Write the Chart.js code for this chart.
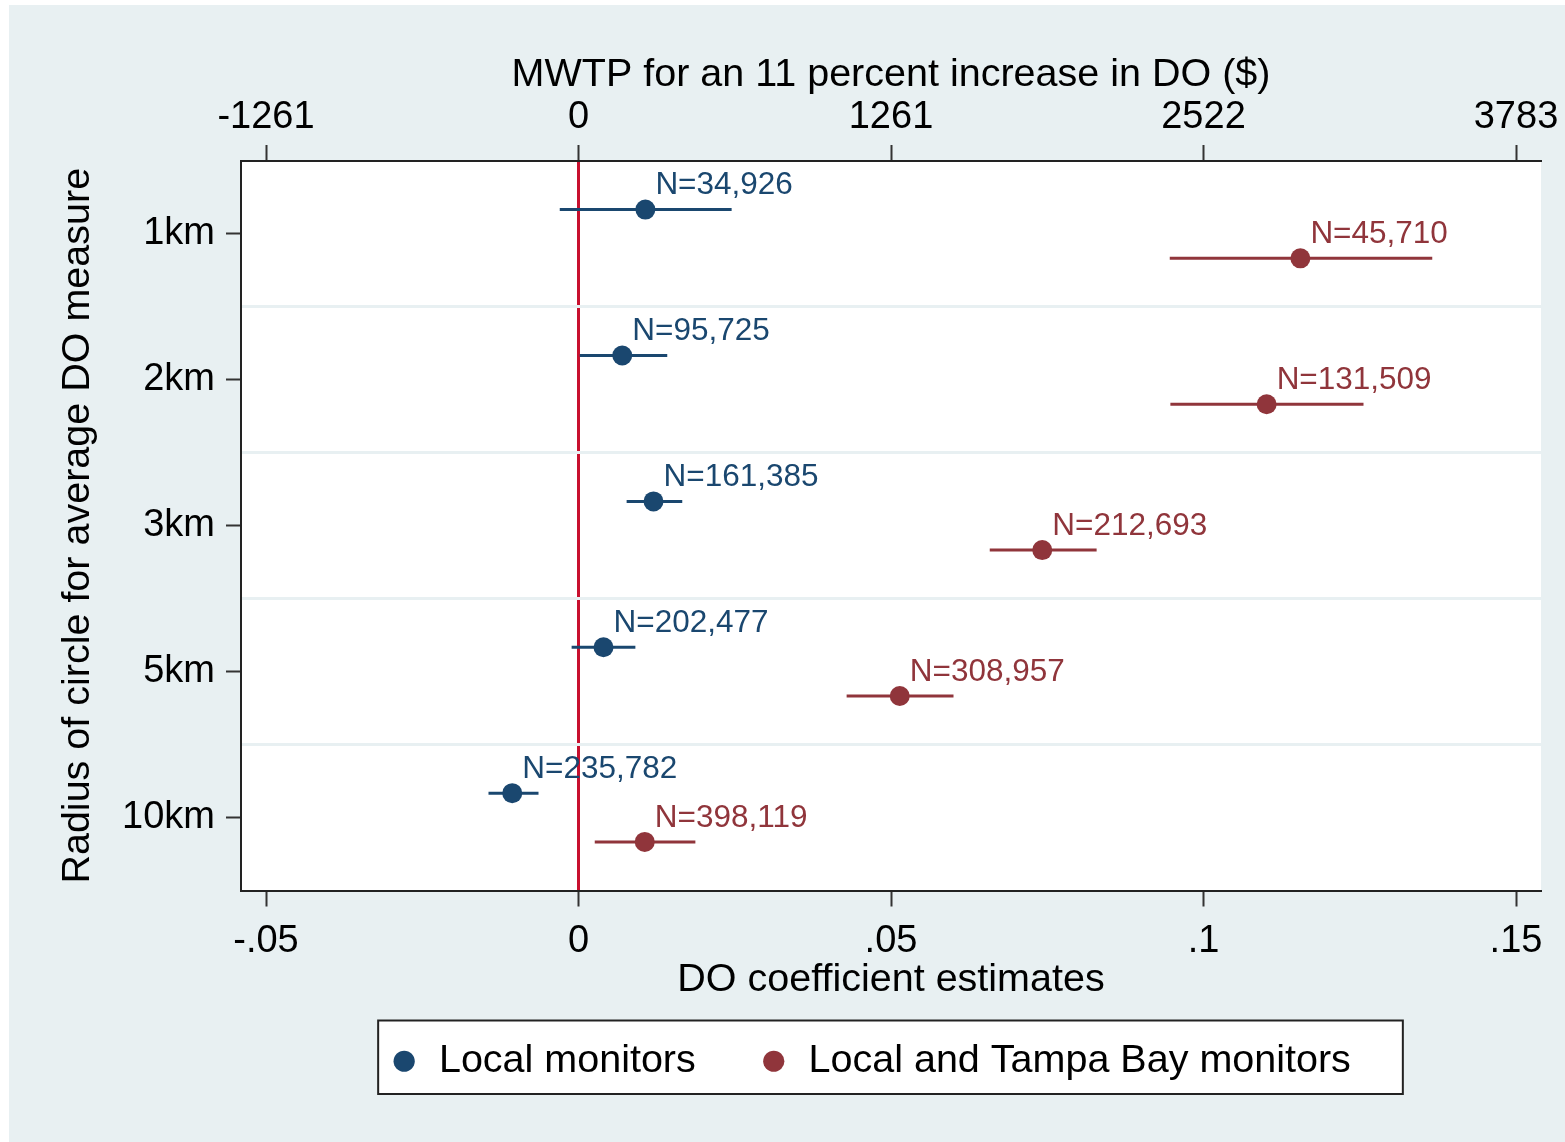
<!DOCTYPE html>
<html>
<head>
<meta charset="utf-8">
<title>DO coefficient estimates</title>
<script src="https://cdn.jsdelivr.net/npm/chart.js@4.4.0/dist/chart.umd.min.js"></script>
<style>
  html, body { margin: 0; padding: 0; background: #fff; }
  #wrap { width: 1565px; height: 1142px; }
</style>
</head>
<body>
<div id="wrap"><canvas id="coefChart" width="1565" height="1142"></canvas></div>
<script>
// radius of the averaging circle, top to bottom
const radii = ['1km', '2km', '3km', '5km', '10km'];

// sample size of each regression
const localN = ['34,926', '95,725', '161,385', '202,477', '235,782'];
const tampaN = ['45,710', '131,509', '212,693', '308,957', '398,119'];

// DO coefficient estimates with confidence bounds
const localEst = [0.0107, 0.0070, 0.0120, 0.0040, -0.0106];
const localLo  = [-0.0030, 0.0002, 0.0077, -0.0011, -0.0144];
const localHi  = [0.0245, 0.0142, 0.0166, 0.0091, -0.0064];

const tampaEst = [0.1155, 0.1101, 0.0742, 0.0514, 0.0106];
const tampaLo  = [0.0946, 0.0947, 0.0658, 0.0429, 0.0026];
const tampaHi  = [0.1366, 0.1256, 0.0829, 0.0600, 0.0187];

// axis ticks
const coefTicks = [-0.05, 0, 0.05, 0.1, 0.15];
const coefTickLabels = ['-.05', '0', '.05', '.1', '.15'];
const mwtpTicks = [-1261, 0, 1261, 2522, 3783];

const seriesNames = ['Local monitors', 'Local and Tampa Bay monitors'];
const seriesColors = ['#1a476f', '#90353b'];

// $ of MWTP per unit of the DO coefficient (1261 per .05)
const MWTP_SCALE = 25220;
const X_MIN = -0.054;
const X_MAX = 0.154;
const ROW_SHIFT = 0.167;   // vertical split of the two series inside a row
const BG = '#e8f0f2';
const FONT = "'Liberation Sans', Arial, sans-serif";

Chart.defaults.font.family = FONT;
Chart.defaults.color = '#000';

function rowPoints(est, shift) {
  return est.map((v, i) => ({ x: v, y: i + 1 + shift }));
}

function fixedTicks(values) {
  return scale => { scale.ticks = values.map(v => ({ value: v })); };
}

// panel background, white plot region, zero line and legend frame
const backdrop = {
  id: 'backdrop',
  beforeDraw(chart) {
    const { ctx, chartArea: a, width, height } = chart;
    ctx.save();
    ctx.fillStyle = '#fff';
    ctx.fillRect(0, 0, width, height);
    ctx.fillStyle = BG;
    ctx.fillRect(9, 5, width - 9, height - 5);
    ctx.fillStyle = '#fff';
    ctx.fillRect(a.left, a.top, a.right - a.left, a.bottom - a.top);

    const x0 = chart.scales.x.getPixelForValue(0);
    ctx.strokeStyle = '#c8102e';
    ctx.lineWidth = 3;
    ctx.beginPath();
    ctx.moveTo(x0, a.top);
    ctx.lineTo(x0, a.bottom);
    ctx.stroke();

    const hb = chart.legend.legendHitBoxes;
    if (hb && hb.length) {
      const last = hb[hb.length - 1];
      const l = hb[0].left - 11;
      const r = last.left + last.width + 52;
      const t = hb[0].top - 21;
      const b = hb[0].top + hb[0].height + 13;
      ctx.fillStyle = '#fff';
      ctx.fillRect(l, t, r - l, b - t);
      ctx.strokeStyle = '#222';
      ctx.lineWidth = 2;
      ctx.strokeRect(l, t, r - l, b - t);
    }
    ctx.restore();
  },
  afterLayout(chart) {
    // legend box sits a little left of the plot centre
    chart.legend.left -= 21;
    chart.legend.right -= 21;
  }
};

// confidence interval whiskers and N= labels
const intervals = {
  id: 'intervals',
  beforeDatasetsDraw(chart) {
    const { ctx, scales: { x, y } } = chart;
    ctx.save();
    ctx.lineWidth = 3;
    chart.data.datasets.forEach(ds => {
      ctx.strokeStyle = ds.borderColor;
      ds.data.forEach((p, i) => {
        const py = y.getPixelForValue(p.y);
        ctx.beginPath();
        ctx.moveTo(x.getPixelForValue(ds.ciLo[i]), py);
        ctx.lineTo(x.getPixelForValue(ds.ciHi[i]), py);
        ctx.stroke();
      });
    });
    ctx.restore();
  },
  afterDatasetsDraw(chart) {
    const { ctx, scales: { x, y } } = chart;
    ctx.save();
    ctx.font = '31.5px ' + FONT;
    ctx.textAlign = 'left';
    ctx.textBaseline = 'middle';
    chart.data.datasets.forEach(ds => {
      ctx.fillStyle = ds.borderColor;
      ds.data.forEach((p, i) => {
        ctx.fillText('N=' + ds.nText[i], x.getPixelForValue(p.x) + 10, y.getPixelForValue(p.y) - 24);
      });
    });
    ctx.restore();
  }
};

const datasets = [
  {
    label: seriesNames[0],
    data: rowPoints(localEst, -ROW_SHIFT),
    ciLo: localLo, ciHi: localHi, nText: localN,
    backgroundColor: seriesColors[0],
    borderColor: seriesColors[0],
    borderWidth: 1,
    pointStyle: 'circle',
    pointRadius: 10,
    pointHoverRadius: 10,
    pointBorderWidth: 0
  },
  {
    label: seriesNames[1],
    data: rowPoints(tampaEst, ROW_SHIFT),
    ciLo: tampaLo, ciHi: tampaHi, nText: tampaN,
    backgroundColor: seriesColors[1],
    borderColor: seriesColors[1],
    borderWidth: 1,
    pointStyle: 'circle',
    pointRadius: 10,
    pointHoverRadius: 10,
    pointBorderWidth: 0
  }
];

const rowTicks = [1, 1.5, 2, 2.5, 3, 3.5, 4, 4.5, 5];
const isRow = v => Number.isInteger(v);

new Chart(document.getElementById('coefChart'), {
  type: 'scatter',
  data: { datasets: datasets },
  plugins: [backdrop, intervals],
  options: {
    responsive: false,
    animation: false,
    devicePixelRatio: 1,
    layout: { padding: { left: 0, right: 24, top: 0, bottom: 51 } },
    plugins: {
      legend: {
        position: 'bottom',
        fullSize: false,
        labels: {
          usePointStyle: true,
          boxWidth: 30,
          boxHeight: 15,
          padding: 63,
          color: '#000',
          font: { size: 39.5 }
        }
      },
      tooltip: { enabled: false }
    },
    scales: {
      x: {
        type: 'linear',
        position: 'bottom',
        min: X_MIN,
        max: X_MAX,
        afterBuildTicks: fixedTicks(coefTicks),
        afterFit(scale) {
          scale.height = 88;
          scale.paddingLeft = 0;
          scale.paddingRight = 0;
        },
        ticks: {
          padding: 12,
          font: { size: 38 },
          color: '#000',
          callback: v => coefTickLabels[coefTicks.indexOf(v)]
        },
        grid: { drawOnChartArea: false, tickLength: 16, tickWidth: 2, tickColor: '#333' },
        border: { display: true, color: '#222', width: 2 },
        title: {
          display: true,
          text: 'DO coefficient estimates',
          font: { size: 39.5 },
          color: '#000',
          padding: { top: 0, bottom: -25 }
        }
      },
      x2: {
        type: 'linear',
        position: 'top',
        min: X_MIN * MWTP_SCALE,
        max: X_MAX * MWTP_SCALE,
        afterBuildTicks: fixedTicks(mwtpTicks),
        afterFit(scale) {
          scale.height = 161;
          scale.paddingLeft = 0;
          scale.paddingRight = 0;
        },
        ticks: {
          padding: 5,
          font: { size: 38 },
          color: '#000',
          callback: v => String(v)
        },
        grid: { drawOnChartArea: false, tickLength: 16, tickWidth: 2, tickColor: '#333' },
        border: { display: true, color: '#222', width: 2 },
        title: {
          display: true,
          text: 'MWTP for an 11 percent increase in DO ($)',
          font: { size: 39.5 },
          color: '#000',
          padding: { top: 51, bottom: 0 }
        }
      },
      y: {
        type: 'linear',
        position: 'left',
        reverse: true,
        min: 0.5,
        max: 5.5,
        afterBuildTicks: fixedTicks(rowTicks),
        afterFit(scale) {
          scale.width = 241;
          scale.paddingTop = 0;
          scale.paddingBottom = 0;
        },
        ticks: {
          padding: 11,
          font: { size: 38 },
          color: '#000',
          callback: v => isRow(v) ? radii[v - 1] : ''
        },
        grid: {
          drawOnChartArea: true,
          tickLength: 15,
          lineWidth: 3,
          tickWidth: 2,
          color: c => isRow(c.tick.value) ? 'rgba(0,0,0,0)' : BG,
          tickColor: c => isRow(c.tick.value) ? '#333' : 'rgba(0,0,0,0)'
        },
        border: { display: true, color: '#222', width: 2 },
        title: {
          display: true,
          text: 'Radius of circle for average DO measure',
          font: { size: 39.5 },
          color: '#000',
          padding: { top: 54, bottom: 0 }
        }
      }
    }
  }
});
</script>
</body>
</html>
